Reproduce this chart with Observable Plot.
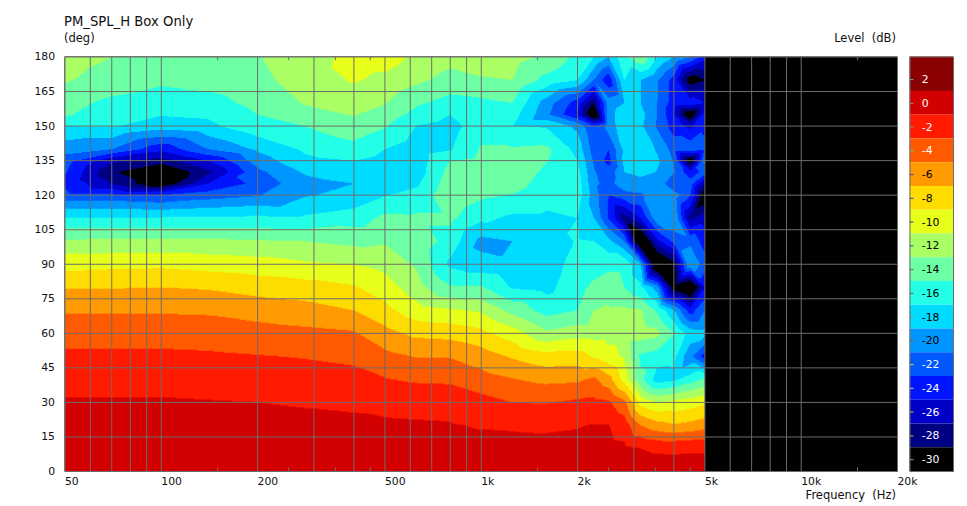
<!DOCTYPE html>
<html>
<head>
<meta charset="utf-8">
<script src="https://cdn.jsdelivr.net/npm/d3@7"></script>
<script src="https://cdn.jsdelivr.net/npm/@observablehq/plot@0.6"></script>
<style>
html,body{margin:0;padding:0;background:#fff;}
#wrap{position:relative;width:967px;height:506px;font-family:"DejaVu Sans",sans-serif;color:#111;overflow:hidden;}
#wrap svg{position:absolute;left:0;top:0;}
.t{position:absolute;white-space:pre;line-height:1;}
</style>
</head>
<body>
<div id="wrap">
<div class="t" style="left:64px;top:15px;font-size:13.2px">PM_SPL_H Box Only</div>
<div class="t" style="left:64px;top:33px;font-size:11.5px">(deg)</div>
<div class="t" style="right:71px;top:33px;font-size:11.5px">Level  (dB)</div>
<div class="t" style="right:71px;top:490px;font-size:11.5px">Frequency  (Hz)</div>
</div>
<script>
const freqs = [50,70,100,140,200,280,400,500,630,800,1000,1250,1600,2000,2250,2500,2800,3150,3550,4000,4500,5000];
const angles = [0,10,20,30,40,50,60,70,80,90,100,110,120,125,130,135,140,150,155,160,170,180];
const a000 = [.2,.2,.2,.1,0,0,-.1,-.1,-.2,-.2,-.3,-.3,-.3,-.3,-.2,-.2,-.2,-.3,-.3,-.3,-.2,-.2];
const a010 = [-.2,-.2,-.2,-.3,-.3,-.3,-.4,-.4,-.5,-.5,-.5,-.6,-.6,-.5,-.5,-.5,-.6,-1,-1.2,-1.25,-1.2,-1.25];
const a020 = [-.6,-.6,-.6,-.6,-.7,-.7,-.75,-.8,-.85,-.9,-1.1,-1.15,-1.2,-1.1,-.9,-.95,-1.9,-5,-6.2,-6.8,-6.4,-5.9];
const a030 = [-.8,-.8,-.8,-.9,-1,-1.1,-1.2,-1.35,-1.45,-1.5,-2.3,-3,-3.1,-2.7,-2.5,-2.7,-4.5,-9.6,-11,-10.5,-10,-9.3];
const a040 = [-1.7,-1.7,-1.7,-1.8,-2,-2.1,-2.4,-2.9,-3.3,-3.4,-4.2,-4.9,-5.5,-5.4,-4.6,-6.2,-9.8,-14.5,-18,-17.5,-16,-14.8];
const a050 = [-2.6,-2.6,-2.6,-2.7,-2.9,-3.1,-3.4,-4.4,-5.1,-5.1,-6,-7.2,-8.2,-8,-9.2,-10.3,-11.3,-15.4,-16,-16.4,-20.5,-24];
const a060 = [-3.8,-3.8,-3.8,-3.9,-4.2,-4.5,-4.8,-6.3,-7.5,-7.7,-8.4,-10,-12.6,-11.8,-11.8,-11.7,-11.7,-12,-12.4,-14.8,-17.8,-18.2];
const a070 = [-5.2,-5.2,-5.2,-5.3,-5.8,-6.2,-7,-8.4,-10.2,-10.7,-11.3,-13.6,-15.8,-15,-13,-12.7,-12.6,-12.8,-15.3,-18.8,-24,-21];
const a080 = [-7.1,-7.1,-7,-7.2,-7.8,-8.1,-8.8,-10,-12.2,-14.8,-14.8,-17.2,-17.6,-15.6,-14.5,-13.9,-15,-16.5,-20,-30.5,-33,-25];
const a090 = [-9.7,-9.5,-9.4,-9.8,-10.1,-10.7,-11,-11.7,-13.3,-17.4,-18.3,-18.7,-18.2,-16,-16,-15.5,-15.5,-19,-33,-29.8,-19,-22];
const a100 = [-12.7,-12.6,-12.5,-12.6,-12.8,-13,-13.5,-13.2,-13.7,-15.8,-19.6,-19,-18.3,-16.8,-17,-18.4,-21,-33,-25.6,-22.5,-21.5,-24];
const a110 = [-16.8,-16.8,-16.8,-16.7,-16.6,-16.7,-16,-14.5,-14.6,-14.6,-16.5,-17.4,-17.4,-17,-19,-23.2,-28,-25,-19.5,-19,-27.5,-26];
const a120 = [-22.5,-22.5,-23,-22,-21.2,-19.2,-18.4,-17.1,-16.3,-13.5,-14.6,-15.1,-16.2,-16,-20,-23,-21.8,-21.3,-19.6,-19.9,-22.7,-31];
const a125 = [-23.3,-27,-31,-25,-22.4,-19.6,-19,-18.2,-17.3,-13.8,-14,-14.2,-15.8,-16,-20.5,-21.8,-19.6,-20,-19.4,-23,-22,-27];
const a130 = [-22.8,-28.7,-31.5,-27.5,-21.5,-18.8,-18,-18,-18,-14.3,-14,-13.8,-15.4,-16.4,-20.8,-22.2,-19,-18.2,-19.1,-20.8,-24.5,-22];
const a135 = [-22,-26.5,-28,-25,-20,-17.5,-17,-17.7,-18.1,-15,-14.4,-14.3,-14.9,-17,-21.3,-23.8,-18.4,-17.7,-18.7,-21.2,-31,-20.5];
const a140 = [-20.2,-21,-24.4,-21,-18.7,-16.7,-15.7,-17,-18.2,-17.2,-14.8,-14.8,-14.6,-17.7,-22,-23,-18.5,-17.7,-19.2,-21.8,-21.5,-22.5];
const a150 = [-17,-16.8,-18.1,-17.5,-15.6,-15,-13.7,-14.8,-17.1,-17.8,-15.8,-16.9,-17.2,-19.5,-23,-20,-17.8,-18.6,-21.3,-24,-25.5,-23.5];
const a155 = [-14.8,-16,-16.9,-16.7,-15,-13.7,-12.9,-13.8,-15.7,-17,-15.7,-16,-20.5,-25,-32,-19.8,-17.8,-18.2,-21,-25,-31.5,-24];
const a160 = [-14.3,-15.5,-16.1,-15.8,-14.4,-12.9,-12,-12.9,-14.7,-15.8,-15.5,-15,-20,-24,-29,-20,-19,-19,-21,-24,-23.5,-25];
const a170 = [-12.8,-13.8,-14.6,-14.2,-13.5,-12.2,-10.8,-11.5,-12.6,-13.7,-13.2,-13,-15.6,-17,-21,-24.5,-17,-19,-20.8,-23.8,-30.5,-29];
const a180 = [-12.2,-13,-13.8,-13.5,-13.1,-12.5,-10,-10,-11.5,-12.3,-12,-12.2,-13.4,-15.5,-17,-19,-15.5,-13,-17,-19,-21,-24];
const levels = [a000,a010,a020,a030,a040,a050,a060,a070,a080,a090,a100,a110,a120,a125,a130,a135,a140,a150,a155,a160,a170,a180];

const bandLabels = [2,0,-2,-4,-6,-8,-10,-12,-14,-16,-18,-20,-22,-24,-26,-28,-30];
const bandColors = ["#8b0000","#d20000","#ff1a00","#ff5a00","#ff9a00","#ffdc00","#e8ff1a","#aaff64","#6cffa4","#22ffe6","#00dcff","#0096ff","#0058ff","#0014ff","#0000c8","#000082","#000000"];
const labelColors = ["#fff","#fff","#fff","#fff","#000","#000","#000","#000","#000","#000","#000","#000","#fff","#fff","#fff","#fff","#fff"];
const tickColors = ["#5fa8a8","#909090","#909090","#50e8a0","#5030d0","#2040e0","#1830d0","#1050d0","#a05020","#a05020","#b08050","#905030","#e0e060","#e0e080","#d0d040","#c8c020","#a0a0a0"];
const thresholds = [-29,-27,-25,-23,-21,-19,-17,-15,-13,-11,-9,-7,-5,-3,-1,1];
const gridFreqs = [60,70,80,90,100,200,300,400,500,600,700,800,900,1000,2000,3000,4000,5000,6000,7000,8000,9000,10000];
const minorFreqs = [150,250,350,450,1500,2500,3500,4500,15000];
const labelFreqs = [50,100,200,500,1000,2000,5000,10000,20000];
const angleTicks = [0,15,30,45,60,75,90,105,120,135,150,165,180];
const gridAngles = [15,30,45,60,75,90,105,120,135,150,165];
const lineColor = "#6c6c6c";
const fontStyle = {fontFamily:'"DejaVu Sans",sans-serif',fontSize:"10.8px",color:"#111",background:"transparent"};

const samples = [];
angles.forEach((a,i)=>freqs.forEach((f,j)=>samples.push({f,a,v:levels[i][j]})));

const chart = Plot.plot({
  width:967,height:506,marginLeft:64.5,marginRight:70,marginTop:56.5,marginBottom:35,
  style:fontStyle,
  x:{type:"log",domain:[50,20000],axis:null},
  y:{domain:[0,180]},
  color:{type:"threshold",domain:thresholds,range:bandColors.slice().reverse()},
  marks:[
    Plot.rect([{}],{x1:()=>50,x2:()=>20000,y1:()=>0,y2:()=>180,fill:"#000"}),
    Plot.contour(samples,{x:"f",y:"a",value:"v",fill:"value",interpolate:"barycentric",thresholds,
      x1:50,x2:5000,y1:0,y2:180,pixelSize:1,smooth:false}),
    Plot.gridX(gridFreqs,{stroke:lineColor,strokeOpacity:1}),
    Plot.gridY(gridAngles,{stroke:lineColor,strokeOpacity:1}),
    Plot.ruleX(minorFreqs,{y1:()=>0,y2:()=>1.6,stroke:lineColor}),
    Plot.ruleX(minorFreqs,{y1:()=>178.4,y2:()=>180,stroke:lineColor}),
    Plot.frame({stroke:lineColor}),
    Plot.text(labelFreqs,{x:d=>d,y:()=>0,dy:10,textAnchor:"start",lineAnchor:"middle",fill:"#111",
      text:d=>d>=1000?(d/1000)+"k":String(d)}),
    Plot.axisY({ticks:angleTicks,tickSize:0,tickPadding:10,label:null})
  ]
});
document.getElementById("wrap").appendChild(chart);

const bands = bandLabels.map((l,i)=>({l,lo:i==bandLabels.length-1?-31:l-1,hi:i==0?3.9:l+1,fill:bandColors[i],tc:labelColors[i],mc:tickColors[i]}));
const legend = Plot.plot({
  width:967,height:506,marginLeft:909.5,marginRight:14,marginTop:56.5,marginBottom:35,
  style:fontStyle,
  x:{domain:[0,1],axis:null},
  y:{domain:[-31,3.9],axis:null},
  marks:[
    Plot.rect(bands,{x1:()=>0,x2:()=>1,y1:"lo",y2:"hi",fill:d=>d.fill}),
    Plot.ruleY(bands,{y:"l",x1:()=>0,x2:()=>0.09,stroke:d=>d.mc}),
    Plot.text(bands,{x:()=>0.27,y:"l",text:d=>String(d.l),textAnchor:"start",fill:d=>d.tc}),
    Plot.frame({stroke:lineColor})
  ]
});
document.getElementById("wrap").appendChild(legend);
</script>
</body>
</html>
